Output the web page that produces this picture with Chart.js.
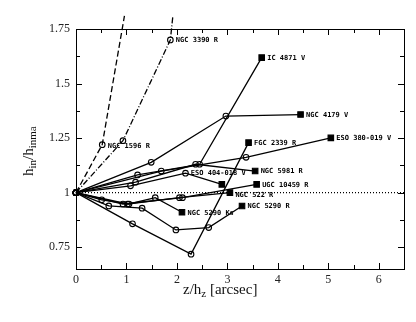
<!DOCTYPE html>
<html>
<head>
<meta charset="utf-8">
<script src="https://cdn.jsdelivr.net/npm/chart.js@4.4.1/dist/chart.umd.min.js"></script>
<style>
  html, body { margin: 0; padding: 0; background: #fff; }
  #wrap { width: 416px; height: 322px; }
</style>
</head>
<body>
<div id="wrap"><canvas id="c"></canvas></div>
<script>
// galaxy profiles: z/hz vs hin/hin_ma
const names = ['NGC 1596 R', 'NGC 3390 R', 'IC 4871 V', 'NGC 4179 V', 'FGC 2339 R', 'ESO 380-019 V',
  'ESO 404-018 V', 'NGC 5981 R', 'UGC 10459 R', 'NGC 522 R', 'NGC 5290 Ks', 'NGC 5290 R'];
const zData = [
  [0, 0.52, 0.96],
  [0, 0.93, 1.87, 1.92],
  [0, 1.22, 2.45, 3.68],
  [0, 1.49, 2.97, 4.45],
  [0, 1.12, 2.28, 3.42],
  [0, 1.69, 3.37, 5.05],
  [0, 1.08, 2.17, 2.89],
  [0, 1.18, 2.37, 3.55],
  [0, 0.93, 2.11, 3.58],
  [0, 1.02, 2.05, 3.05],
  [0, 0.51, 1.05, 1.57, 2.10],
  [0, 0.65, 1.31, 1.98, 2.63, 3.29]
];
const hData = [
  [1, 1.22, 1.81],
  [1, 1.238, 1.70, 1.81],
  [1, 1.081, 1.13, 1.619],
  [1, 1.139, 1.351, 1.358],
  [1, 0.857, 0.718, 1.229],
  [1, 1.099, 1.162, 1.251],
  [1, 1.031, 1.089, 1.038],
  [1, 1.048, 1.13, 1.099],
  [1, 0.948, 0.977, 1.038],
  [1, 0.948, 0.977, 1.0],
  [1, 0.967, 0.948, 0.977, 0.910],
  [1, 0.939, 0.929, 0.829, 0.84, 0.939]
];
// which point carries the name
const labelPoint = [1, 2, 3, 3, 3, 3, 3, 3, 3, 3, 4, 5];
const refZ = [0, 6.5];
const refH = [1, 1];
const xTicks = [0, 1, 2, 3, 4, 5, 6];
const yTicks = [0.75, 1, 1.25, 1.5, 1.75];

const dashes = { 'NGC 1596 R': [6, 3], 'NGC 3390 R': [6, 2, 1, 2] };
const openEnd = ['NGC 1596 R', 'NGC 3390 R'];
const labelShift = { 'NGC 1596 R': [5.5, 2], 'NGC 522 R': [5.5, 3], 'ESO 404-018 V': [-31, -11] };

const datasets = names.map((name, i) => {
  const n = zData[i].length;
  const open = openEnd.includes(name);
  const style = [], radius = [], fill = [];
  for (let j = 0; j < n; j++) {
    const last = j === n - 1;
    style.push(last && !open ? 'rect' : 'circle');
    radius.push(last ? (open ? 0 : 3.9) : 2.8);
    fill.push(last && !open ? '#000' : 'rgba(0,0,0,0)');
  }
  return {
    label: name,
    data: zData[i].map((z, j) => ({ x: z, y: hData[i][j] })),
    borderColor: '#000',
    borderWidth: 1.3,
    borderDash: dashes[name] || [],
    pointStyle: style,
    pointRadius: radius,
    pointBackgroundColor: fill,
    pointBorderColor: '#000',
    pointBorderWidth: 1.1,
    tension: 0,
    clip: false
  };
});

datasets.unshift({
  label: '',
  data: refZ.map((z, j) => ({ x: z, y: refH[j] })),
  borderColor: '#000',
  borderWidth: 1.2,
  borderDash: [1, 2],
  pointRadius: 0
});

const frame = {
  id: 'frame',
  afterDraw(chart) {
    const { ctx, chartArea: a, scales: { x, y } } = chart;
    ctx.save();
    ctx.strokeStyle = '#000';
    ctx.lineWidth = 1;
    ctx.strokeRect(a.left + 0.5, a.top + 0.5, a.right - a.left, a.bottom - a.top);
    ctx.beginPath();
    for (let v = 0; v <= 6.5; v += 0.5) {
      const px = Math.round(x.getPixelForValue(v)) + 0.5;
      const len = Number.isInteger(v) ? 6 : 4;
      ctx.moveTo(px, a.bottom); ctx.lineTo(px, a.bottom - len);
      ctx.moveTo(px, a.top); ctx.lineTo(px, a.top + len);
    }
    for (let v = 0.75; v <= 1.7501; v += 0.125) {
      const py = Math.round(y.getPixelForValue(v)) + 0.5;
      const len = Math.abs(v * 4 - Math.round(v * 4)) < 1e-6 ? 6 : 4;
      ctx.moveTo(a.left, py); ctx.lineTo(a.left + len, py);
      ctx.moveTo(a.right, py); ctx.lineTo(a.right - len, py);
    }
    ctx.stroke();

    // galaxy names
    ctx.fillStyle = '#000';
    ctx.font = 'bold 7px "DejaVu Sans Mono"';
    ctx.textAlign = 'left';
    ctx.textBaseline = 'middle';
    names.forEach((name, i) => {
      const pt = chart.getDatasetMeta(i + 1).data[labelPoint[i]];
      const s = labelShift[name] || [5.5, 0.5];
      ctx.fillText(name, pt.x + s[0], pt.y + s[1]);
    });

    // axis titles with subscripts
    const big = '15px "Liberation Serif"', small = '11px "Liberation Serif"';
    const run = (parts, x0, y0) => {
      let cx = x0;
      parts.forEach(([t, sub]) => {
        ctx.font = sub ? small : big;
        ctx.fillText(t, cx, y0 + (sub ? 3 : 0));
        cx += ctx.measureText(t).width;
      });
    };
    ctx.fillStyle = '#111';
    ctx.textBaseline = 'alphabetic';
    run([['z/h', 0], ['z', 1], [' [arcsec]', 0]], 183, 294);
    ctx.save();
    ctx.translate(33, 176);
    ctx.rotate(-Math.PI / 2);
    run([['h', 0], ['in', 1], ['/h', 0], ['in', 1], ['ma', 1]], 0, 0);
    ctx.restore();
    ctx.restore();
  }
};

new Chart(document.getElementById('c'), {
  type: 'line',
  data: { datasets },
  options: {
    responsive: true,
    maintainAspectRatio: false,
    animation: false,
    layout: { padding: { left: 0, right: 12, top: 29, bottom: 0 } },
    plugins: { legend: { display: false }, tooltip: { enabled: false } },
    scales: {
      x: {
        type: 'linear',
        min: 0,
        max: 6.5,
        afterFit: s => { s.height = 53; },
        afterBuildTicks: s => { s.ticks = xTicks.map(v => ({ value: v })); },
        grid: { display: false, drawTicks: false },
        border: { display: false },
        ticks: {
          autoSkip: false,
          maxRotation: 0,
          padding: 4,
          color: '#222',
          font: { family: 'Liberation Serif', size: 12 },
          callback: v => String(v)
        }
      },
      y: {
        type: 'linear',
        min: 0.65,
        max: 1.75,
        afterFit: s => { s.width = 76; },
        afterBuildTicks: s => { s.ticks = yTicks.map(v => ({ value: v })); },
        grid: { display: false, drawTicks: false },
        border: { display: false },
        ticks: {
          autoSkip: false,
          padding: 6,
          color: '#222',
          font: { family: 'Liberation Serif', size: 12 },
          callback: v => String(v)
        }
      }
    }
  },
  plugins: [frame]
});
</script>
</body>
</html>
